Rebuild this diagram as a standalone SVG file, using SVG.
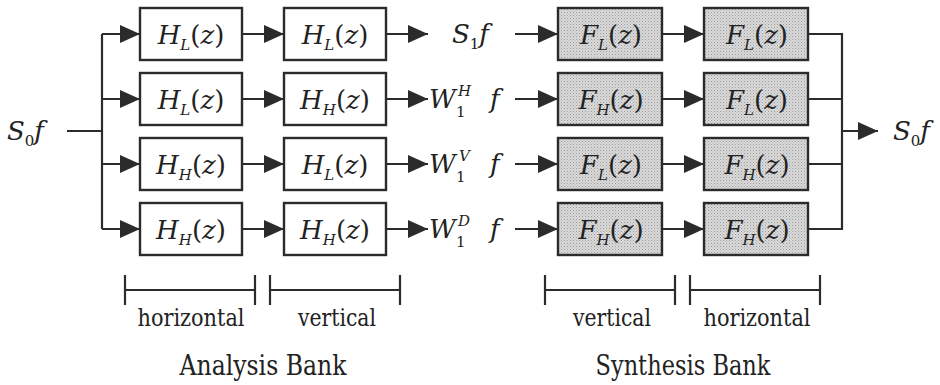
<svg xmlns="http://www.w3.org/2000/svg" width="940" height="385" viewBox="0 0 940 385">
<style>
.ln{stroke:#2b2b2b;stroke-width:2.2;fill:none}
.ar{stroke:#2b2b2b;stroke-width:2.2;fill:none;marker-end:url(#ah)}
.bx{fill:#fff;stroke:#2b2b2b;stroke-width:2.4}
.bf{fill:url(#stip);stroke:#2b2b2b;stroke-width:2.4}
.m{font-size:26px}
.i{font-style:italic}
.s{font-size:15px}
.lab{font-size:24px;text-anchor:middle}
.bank{font-size:27px;text-anchor:middle}
</style>
<defs>
<marker id="ah" markerUnits="userSpaceOnUse" markerWidth="21" markerHeight="19" refX="20" refY="9" orient="auto">
<path d="M0,0 L20,9 L0,18 Z" fill="#2b2b2b"/>
</marker>
<pattern id="stip" patternUnits="userSpaceOnUse" width="3" height="3">
<rect width="3" height="3" fill="#dadada"/>
<rect width="1" height="1" fill="#9a9a9a"/>
<rect x="1.5" y="1.5" width="1" height="1" fill="#b0b0b0"/>
</pattern>
</defs>

<g id="connectors">
<path class="ln" d="M67,131 H102 M102,34 V229"/>
<path class="ar" d="M102,34 H140"/>
<path class="ar" d="M102,99 H140"/>
<path class="ar" d="M102,164 H140"/>
<path class="ar" d="M102,229 H140"/>
<path class="ar" d="M242,34 H284"/>
<path class="ar" d="M242,99 H284"/>
<path class="ar" d="M242,164 H284"/>
<path class="ar" d="M242,229 H284"/>
<path class="ar" d="M386,34 H428"/>
<path class="ar" d="M386,99 H428"/>
<path class="ar" d="M386,164 H428"/>
<path class="ar" d="M386,229 H428"/>
<path class="ar" d="M515,34 H558"/>
<path class="ar" d="M515,99 H558"/>
<path class="ar" d="M515,164 H558"/>
<path class="ar" d="M515,229 H558"/>
<path class="ar" d="M662,34 H704"/>
<path class="ar" d="M662,99 H704"/>
<path class="ar" d="M662,164 H704"/>
<path class="ar" d="M662,229 H704"/>
<path class="ln" d="M808,34 H842 M808,99 H842 M808,164 H842 M808,229 H842 M842,33 V230"/>
<path class="ar" d="M842,131 H878"/>
</g>

<g font-family="DejaVu Serif" fill="#222">
<g id="input">
<text class="m" x="7" y="140"><tspan class="i">S</tspan><tspan class="s" dy="6">0</tspan><tspan class="i" dy="-6">f</tspan></text>
</g>

<g id="a11"><rect class="bx" x="140" y="8" width="102" height="52"/>
<text class="m" x="191" y="44" text-anchor="middle"><tspan class="i">H</tspan><tspan class="s i" dy="6">L</tspan><tspan dy="-6">(</tspan><tspan class="i">z</tspan>)</text></g>
<g id="a21"><rect class="bx" x="140" y="73" width="102" height="52"/>
<text class="m" x="191" y="109" text-anchor="middle"><tspan class="i">H</tspan><tspan class="s i" dy="6">L</tspan><tspan dy="-6">(</tspan><tspan class="i">z</tspan>)</text></g>
<g id="a31"><rect class="bx" x="140" y="138" width="102" height="52"/>
<text class="m" x="191" y="174" text-anchor="middle"><tspan class="i">H</tspan><tspan class="s i" dy="6">H</tspan><tspan dy="-6">(</tspan><tspan class="i">z</tspan>)</text></g>
<g id="a41"><rect class="bx" x="140" y="203" width="102" height="52"/>
<text class="m" x="191" y="239" text-anchor="middle"><tspan class="i">H</tspan><tspan class="s i" dy="6">H</tspan><tspan dy="-6">(</tspan><tspan class="i">z</tspan>)</text></g>

<g id="a12"><rect class="bx" x="284" y="8" width="102" height="52"/>
<text class="m" x="335" y="44" text-anchor="middle"><tspan class="i">H</tspan><tspan class="s i" dy="6">L</tspan><tspan dy="-6">(</tspan><tspan class="i">z</tspan>)</text></g>
<g id="a22"><rect class="bx" x="284" y="73" width="102" height="52"/>
<text class="m" x="335" y="109" text-anchor="middle"><tspan class="i">H</tspan><tspan class="s i" dy="6">H</tspan><tspan dy="-6">(</tspan><tspan class="i">z</tspan>)</text></g>
<g id="a32"><rect class="bx" x="284" y="138" width="102" height="52"/>
<text class="m" x="335" y="174" text-anchor="middle"><tspan class="i">H</tspan><tspan class="s i" dy="6">L</tspan><tspan dy="-6">(</tspan><tspan class="i">z</tspan>)</text></g>
<g id="a42"><rect class="bx" x="284" y="203" width="102" height="52"/>
<text class="m" x="335" y="239" text-anchor="middle"><tspan class="i">H</tspan><tspan class="s i" dy="6">H</tspan><tspan dy="-6">(</tspan><tspan class="i">z</tspan>)</text></g>

<g id="s1f"><text class="m" x="452" y="43"><tspan class="i">S</tspan><tspan class="s" dy="6">1</tspan><tspan class="i" dy="-6">f</tspan></text></g>
<g id="w1h"><text class="m i" x="429" y="108">W</text><text class="m s" x="456" y="117">1</text><text class="m s i" x="458" y="96">H</text><text class="m i" x="490" y="108">f</text></g>
<g id="w1v"><text class="m i" x="429" y="173">W</text><text class="m s" x="456" y="182">1</text><text class="m s i" x="459" y="161">V</text><text class="m i" x="490" y="173">f</text></g>
<g id="w1d"><text class="m i" x="429" y="238">W</text><text class="m s" x="456" y="247">1</text><text class="m s i" x="458" y="226">D</text><text class="m i" x="490" y="238">f</text></g>

<g id="s11"><rect class="bf" x="558" y="8" width="104" height="52"/>
<text class="m" x="611" y="44" text-anchor="middle"><tspan class="i">F</tspan><tspan class="s i" dy="6">L</tspan><tspan dy="-6">(</tspan><tspan class="i">z</tspan>)</text></g>
<g id="s21"><rect class="bf" x="558" y="73" width="104" height="52"/>
<text class="m" x="611" y="109" text-anchor="middle"><tspan class="i">F</tspan><tspan class="s i" dy="6">H</tspan><tspan dy="-6">(</tspan><tspan class="i">z</tspan>)</text></g>
<g id="s31"><rect class="bf" x="558" y="138" width="104" height="52"/>
<text class="m" x="611" y="174" text-anchor="middle"><tspan class="i">F</tspan><tspan class="s i" dy="6">L</tspan><tspan dy="-6">(</tspan><tspan class="i">z</tspan>)</text></g>
<g id="s41"><rect class="bf" x="558" y="203" width="104" height="52"/>
<text class="m" x="611" y="239" text-anchor="middle"><tspan class="i">F</tspan><tspan class="s i" dy="6">H</tspan><tspan dy="-6">(</tspan><tspan class="i">z</tspan>)</text></g>

<g id="s12"><rect class="bf" x="704" y="8" width="104" height="52"/>
<text class="m" x="757" y="44" text-anchor="middle"><tspan class="i">F</tspan><tspan class="s i" dy="6">L</tspan><tspan dy="-6">(</tspan><tspan class="i">z</tspan>)</text></g>
<g id="s22"><rect class="bf" x="704" y="73" width="104" height="52"/>
<text class="m" x="757" y="109" text-anchor="middle"><tspan class="i">F</tspan><tspan class="s i" dy="6">L</tspan><tspan dy="-6">(</tspan><tspan class="i">z</tspan>)</text></g>
<g id="s32"><rect class="bf" x="704" y="138" width="104" height="52"/>
<text class="m" x="757" y="174" text-anchor="middle"><tspan class="i">F</tspan><tspan class="s i" dy="6">H</tspan><tspan dy="-6">(</tspan><tspan class="i">z</tspan>)</text></g>
<g id="s42"><rect class="bf" x="704" y="203" width="104" height="52"/>
<text class="m" x="757" y="239" text-anchor="middle"><tspan class="i">F</tspan><tspan class="s i" dy="6">H</tspan><tspan dy="-6">(</tspan><tspan class="i">z</tspan>)</text></g>

<g id="output">
<text class="m" x="893" y="140"><tspan class="i">S</tspan><tspan class="s" dy="6">0</tspan><tspan class="i" dy="-6">f</tspan></text>
</g>

<g id="brackets">
<path class="ln" d="M125,275 V305 M125,290 H255 M255,275 V305 M270,275 V305 M270,290 H400 M400,275 V305"/>
<path class="ln" d="M545,275 V305 M545,290 H675 M675,275 V305 M690,275 V305 M690,290 H820 M820,275 V305"/>
<text class="lab" x="191" y="326" textLength="107" lengthAdjust="spacingAndGlyphs">horizontal</text>
<text class="lab" x="337" y="326" textLength="78" lengthAdjust="spacingAndGlyphs">vertical</text>
<text class="lab" x="612" y="326" textLength="78" lengthAdjust="spacingAndGlyphs">vertical</text>
<text class="lab" x="757" y="326" textLength="107" lengthAdjust="spacingAndGlyphs">horizontal</text>
<text class="bank" x="263" y="375" textLength="167" lengthAdjust="spacingAndGlyphs">Analysis Bank</text>
<text class="bank" x="683" y="375" textLength="175" lengthAdjust="spacingAndGlyphs">Synthesis Bank</text>
</g>
</g>
</svg>
